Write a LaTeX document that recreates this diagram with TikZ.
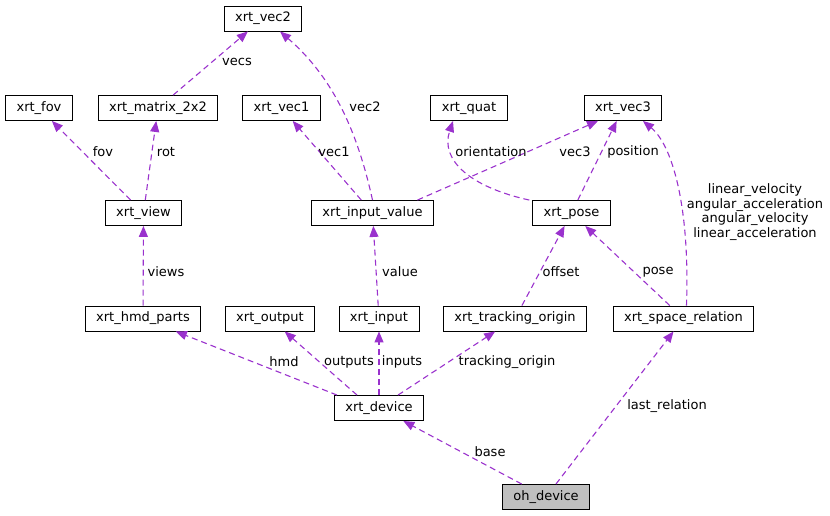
\documentclass[tikz,border=0pt]{standalone}
\usepackage{fontspec}
\setmainfont{DejaVu Sans}
\usetikzlibrary{arrows.meta}
\definecolor{edgepurple}{HTML}{9A32CD}
\definecolor{rootgray}{HTML}{BFBFBF}

\begin{document}
\begin{tikzpicture}[
        x=1pt, y=-1pt,
        every node/.style={font=\fontsize{13}{14.7}\selectfont},
        structbox/.style={draw=black, line width=0.9pt, minimum height=25pt, inner xsep=11pt, text height=9.5pt, text depth=3pt},
        rootbox/.style={structbox, fill=rootgray},
        member/.style={-{Triangle[length=11pt,width=9pt]}, edgepurple, line width=1.1pt, dash pattern=on 6pt off 4pt},
        memtext/.style={inner sep=1pt, align=center, text=black}
    ]
        \useasboundingbox (0,0) rectangle (830,516);

        % Top row
        \node[structbox] (vectwo) at (263,18.5) {xrt\_vec2};

        % Second row
        \node[structbox] (fov) at (39,108) {xrt\_fov};
        \node[structbox] (matrix) at (158,108) {xrt\_matrix\_2x2};
        \node[structbox] (vecone) at (281.5,108) {xrt\_vec1};
        \node[structbox] (quat) at (469,108) {xrt\_quat};
        \node[structbox] (vecthree) at (623,108) {xrt\_vec3};

        % Third row
        \node[structbox] (view) at (143.5,213) {xrt\_view};
        \node[structbox] (inputvalue) at (372.5,213) {xrt\_input\_value};
        \node[structbox] (pose) at (571.5,213) {xrt\_pose};

        % Fourth row
        \node[structbox] (hmdparts) at (143,318.5) {xrt\_hmd\_parts};
        \node[structbox] (output) at (270,318.5) {xrt\_output};
        \node[structbox] (input) at (379,318.5) {xrt\_input};
        \node[structbox] (trackingorigin) at (515,318.5) {xrt\_tracking\_origin};
        \node[structbox] (spacerelation) at (683.5,318.5) {xrt\_space\_relation};

        % Device and root
        \node[structbox] (device) at (379,408) {xrt\_device};
        \node[rootbox] (ohdevice) at (546,497) {oh\_device};

        % Members of the small structs
        \draw[member] (matrix) -- (vectwo) node[memtext] at (237,62) {vecs};
        \draw[member] (inputvalue.north) .. controls (356,125) and (330,75) .. ([xshift=17pt]vectwo.south) node[memtext] at (365,107) {vec2};
        \draw[member] (view) -- (fov) node[memtext] at (103,152) {fov};
        \draw[member] (view) -- (matrix) node[memtext] at (166,152) {rot};
        \draw[member] (inputvalue) -- (vecone) node[memtext] at (334,152) {vec1};
        \draw[member] ([xshift=45pt]inputvalue.north) -- ([xshift=-25pt]vecthree.south) node[memtext] at (575,152) {vec3};
        \draw[member] ([xshift=-3pt]pose.north west) .. controls (470,187) and (440,160) .. ([xshift=-16pt]quat.south) node[memtext] at (491,152) {orientation};
        \draw[member] (pose) -- (vecthree) node[memtext] at (633,152) {position};
        \draw[member] ([xshift=3pt]spacerelation.north) .. controls (690,205) and (672,145) .. ([xshift=20pt]vecthree.south) node[memtext] at (755,212) {linear\_velocity\\angular\_acceleration\\angular\_velocity\\linear\_acceleration};

        % Members of the middle structs
        \draw[member] (hmdparts) -- (view) node[memtext] at (166,272) {views};
        \draw[member] (input) -- (inputvalue) node[memtext] at (400,272) {value};
        \draw[member] (trackingorigin) -- (pose) node[memtext] at (561,272) {offset};
        \draw[member] (spacerelation) -- (pose) node[memtext] at (658,272) {pose};

        % Members of the device
        \draw[member] ([xshift=-42pt]device.north) -- (hmdparts) node[memtext] at (284,362) {hmd};
        \draw[member] ([xshift=-22pt]device.north) -- (output) node[memtext] at (349,362) {outputs};
        \draw[member] (device) -- (input) node[memtext] at (402,362) {inputs};
        \draw[member] ([xshift=19pt]device.north) -- (trackingorigin) node[memtext] at (507,362) {tracking\_origin};

        % Members of the root
        \draw[member] (ohdevice) -- (device) node[memtext] at (490,452) {base};
        \draw[member] (ohdevice) -- (spacerelation) node[memtext] at (667,406) {last\_relation};
    \end{tikzpicture}
\end{document}
